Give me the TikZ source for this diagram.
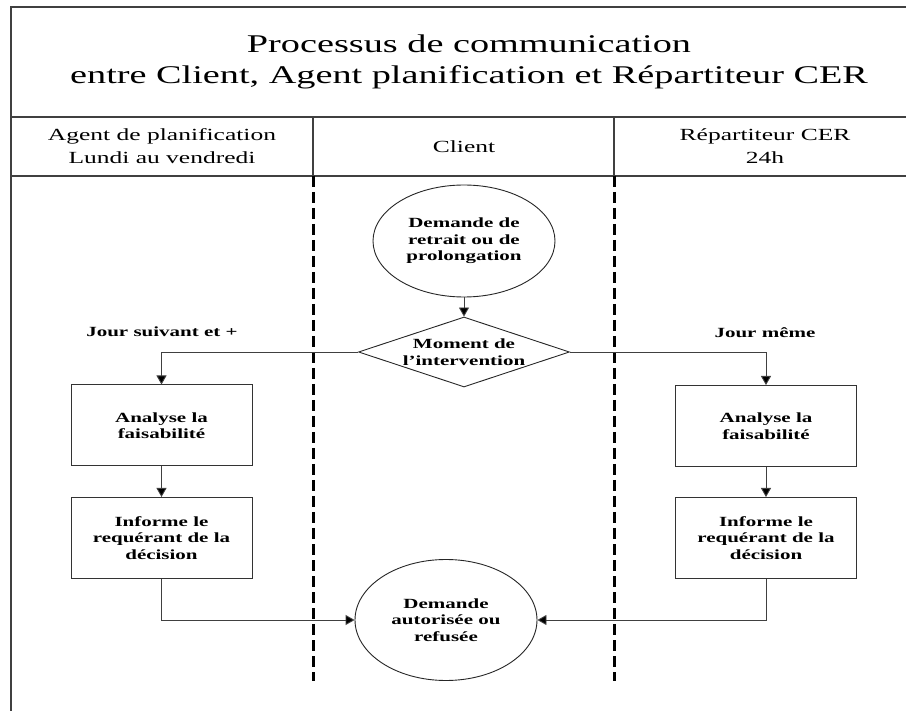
\documentclass[tikz,border=0pt]{standalone}
\usepackage{fontspec}
\setmainfont{Liberation Serif}[FakeStretch=1.5]
\usetikzlibrary{shapes.geometric,arrows.meta}
\begin{document}
\begin{tikzpicture}[x=1pt,y=-1pt,
  frameline/.style={line width=1.8pt,draw=black!75},
  lanedash/.style={line width=3pt,draw=black,dash pattern=on 11pt off 5pt},
  titletext/.style={font=\fontsize{25.5}{31}\selectfont,align=center,inner sep=0pt},
  headtext/.style={font=\fontsize{17}{23}\selectfont,align=center,inner sep=0pt},
  boldtext/.style={font=\fontsize{14}{16.5}\selectfont\bfseries,align=center},
  procbox/.style={draw=black!80,line width=1pt,minimum width=181pt,minimum height=81pt,inner sep=0pt,boldtext},
  oval/.style={ellipse,draw=black!85,line width=0.9pt,inner sep=0pt,boldtext},
  decision/.style={diamond,draw=black!85,line width=0.9pt,inner sep=0pt,minimum width=211pt,minimum height=70pt,shape aspect=3,boldtext},
  arr/.style={draw=black!75,line width=0.9pt,-{Triangle[length=9pt,width=10pt,fill=black]}}
]
\useasboundingbox (0,0) rectangle (906,711);
\fill[white] (0,0) rectangle (906,711);
% frame
\draw[frameline] (11,730) -- (11,7) -- (920,7);
\draw[frameline] (11,117) -- (920,117);
\draw[frameline] (11,176) -- (920,176);
\draw[frameline] (313,117) -- (313,176);
\draw[frameline] (614,117) -- (614,176);
% lanes
\draw[lanedash] (313,176) -- (313,681);
\draw[lanedash] (614,176) -- (614,681);
% texts
\node[titletext] (title) at (469,62) {Processus de communication\\entre Client, Agent planification et Répartiteur CER};
\node[headtext] (hleft) at (162,146) {Agent de planification\\Lundi au vendredi};
\node[headtext] (hmid) at (464,147) {Client};
\node[headtext] (hright) at (765,146) {Répartiteur CER\\24h};
% nodes
\node[oval,minimum width=182pt,minimum height=112pt] (c1) at (464,241) {Demande de\\retrait ou de\\prolongation};
\node[decision] (dia) at (464,352) {Moment de\\l’intervention};
\node[boldtext,inner sep=0pt] (jl) at (162,332) {Jour suivant et +};
\node[boldtext,inner sep=0pt] (jr) at (765,333) {Jour même};
\node[procbox] (bl1) at (161.5,425.5) {Analyse la\\faisabilité};
\node[procbox] (bl2) at (161.5,538) {Informe le\\requérant de la\\décision};
\node[procbox] (br1) at (766,426) {Analyse la\\faisabilité};
\node[procbox] (br2) at (766,538) {Informe le\\requérant de la\\décision};
\node[oval,minimum width=182pt,minimum height=121pt] (c2) at (446,620) {Demande\\autorisée ou\\refusée};
% connectors
\draw[arr] (c1) -- (dia);
\draw[arr] (dia.west) -| (bl1.north);
\draw[arr] (dia.east) -| (br1.north);
\draw[arr] (bl1) -- (bl2);
\draw[arr] (br1) -- (br2);
\draw[arr] (bl2.south) |- (c2.west);
\draw[arr] (br2.south) |- (c2.east);
\end{tikzpicture}
\end{document}
